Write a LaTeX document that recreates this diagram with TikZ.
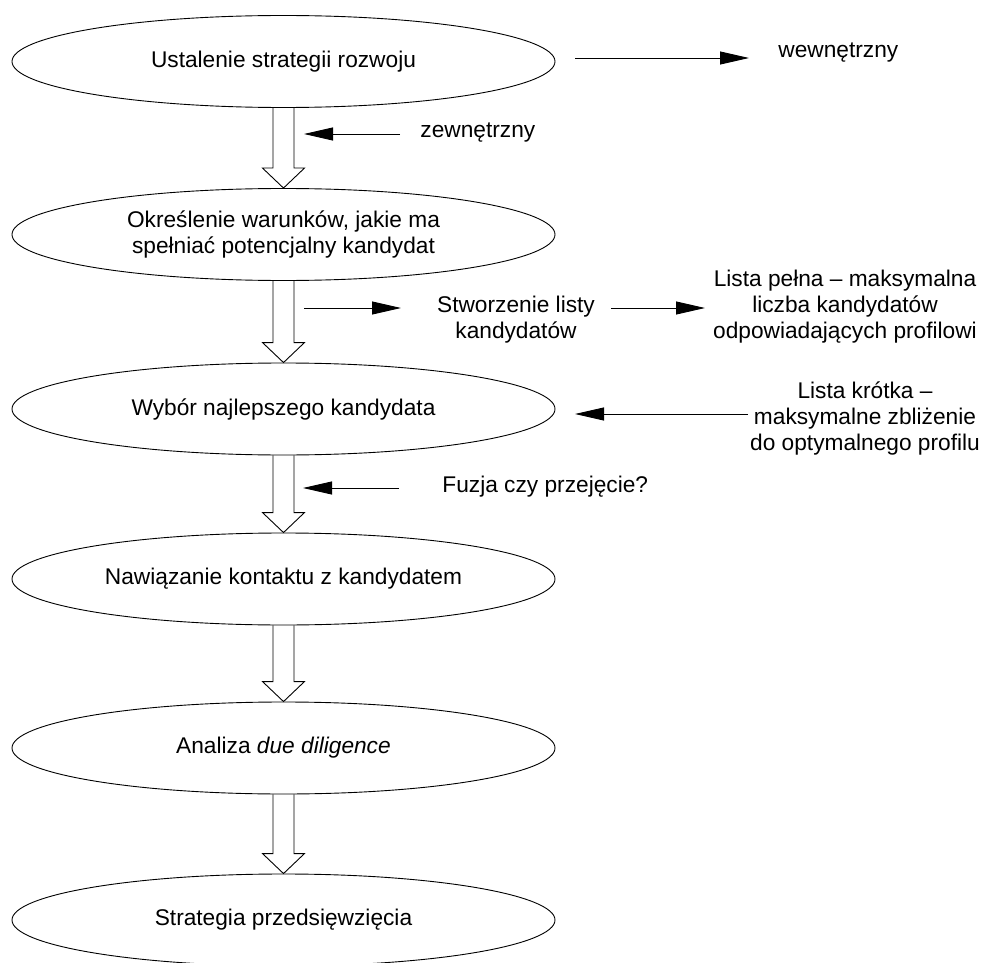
\documentclass[tikz,border=0pt]{standalone}
\usepackage{fontspec}
\setmainfont{Liberation Sans}
\usetikzlibrary{shapes.geometric,arrows.meta,calc}
\begin{document}
\begin{tikzpicture}[x=1pt,y=-1pt,line width=0.9pt,
  every node/.style={font=\fontsize{22.7}{26}\selectfont},
  stage/.style={draw,ellipse,minimum width=543pt,minimum height=92pt,inner xsep=-20pt,inner ysep=0pt,align=center},
  note/.style={inner sep=0pt,align=center},
  pointer/.style={-{Triangle[length=29pt,width=13pt]}}]
\useasboundingbox (0,0) rectangle (991,963);
\clip (0,0) rectangle (991,963);
% stages
\node[stage] (e1) at (283.5,61.5) {Ustalenie strategii rozwoju};
\node[stage] (e2) at (283.5,234.5) {Określenie warunków, jakie ma\\spełniać potencjalny kandydat};
\node[stage] (e3) at (283.5,409) {Wybór najlepszego kandydata};
\node[stage] (e4) at (283.5,579) {Nawiązanie kontaktu z kandydatem};
\node[stage] (e5) at (283.5,748) {Analiza \textit{due diligence}};
\node[stage] (e6) at (283.5,920) {Strategia przedsięwzięcia};
% hollow arrows between stages
\foreach \a/\b in {e1/e2,e2/e3,e3/e4,e4/e5,e5/e6}
  \draw let \p1=(\a.south), \p2=(\b.north) in
    (\x1-10.5pt,\y1) -- (\x1-10.5pt,\y2+20pt) -- (\x1-21pt,\y2+20pt) -- (\x1,\y2)
    -- (\x1+21pt,\y2+20pt) -- (\x1+10.5pt,\y2+20pt) -- (\x1+10.5pt,\y1);
% side notes
\node[note,anchor=west] (wew) at (778,53) {wewnętrzny};
\node[note,anchor=west] (zew) at (420,133) {zewnętrzny};
\node[note] (stw) at (516,320) {Stworzenie listy\\kandydatów};
\node[note] (pel) at (845,307) {Lista pełna – maksymalna\\liczba kandydatów\\odpowiadających profilowi};
\node[note] (kro) at (865,418) {Lista krótka –\\maksymalne zbliżenie\\do optymalnego profilu};
\node[note,anchor=west] (fuz) at (442,487) {Fuzja czy przejęcie?};
% arrow ends
\coordinate (w0) at (575,58);  \coordinate (w1) at (749,58);
\coordinate (z0) at (400,134); \coordinate (z1) at (304,134);
\coordinate (s0) at (304,308); \coordinate (s1) at (401,308);
\coordinate (p0) at (611,308); \coordinate (p1) at (705,308);
\coordinate (k0) at (748,414); \coordinate (k1) at (575,414);
\coordinate (f0) at (399,488); \coordinate (f1) at (303,488);
% connectors
\foreach \u/\v in {w0/w1,z0/z1,s0/s1,p0/p1,k0/k1,f0/f1}
  \draw[pointer] (\u) -- (\v);
\end{tikzpicture}
\end{document}
